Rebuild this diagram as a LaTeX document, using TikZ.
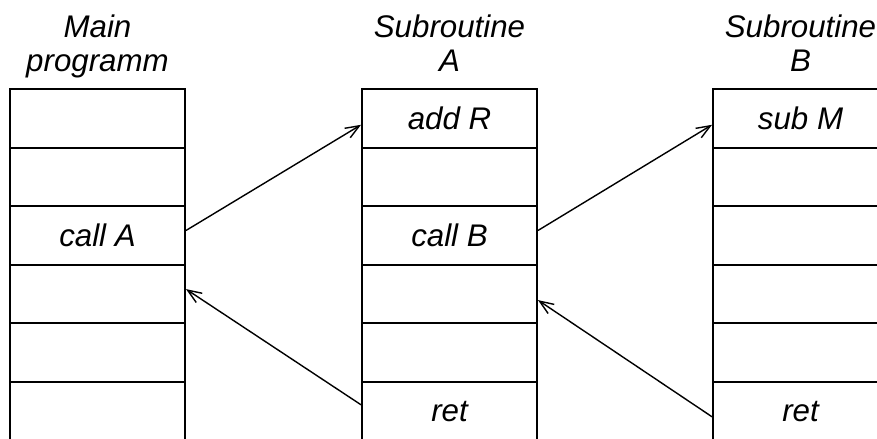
\documentclass[tikz,border=0pt]{standalone}
\usepackage{fontspec}
\setmainfont{Liberation Sans}
\usetikzlibrary{arrows.meta}
\begin{document}
\begin{tikzpicture}[
    cell/.style={draw, line width=1.1pt, minimum width=3.5cm, minimum height=1.172cm,
      inner sep=0pt, font=\fontsize{17.8}{19.4}\selectfont\itshape},
    hdr/.style={anchor=north, inner sep=0pt, align=center,
      font=\fontsize{17.8}{19.4}\selectfont\itshape},
    call/.style={-{Straight Barb[length=0.28cm,width=0.22cm]}, line width=0.8pt}
  ]
  \useasboundingbox (0,0) rectangle (17.54,-8.78);
  \node[hdr] (hm) at (1.95,-0.28) {Main\\programm};
  \node[hdr] (ha) at (8.99,-0.28) {Subroutine\\A};
  \node[hdr] (hb) at (16.01,-0.28) {Subroutine\\B};
  \foreach \r/\t in {1/{},2/{},3/call A,4/{},5/{},6/{}}
    \node[cell] (m\r) at (1.95,{-1.78-1.172*(\r-0.5)}) {\t};
  \foreach \r/\t in {1/add R,2/{},3/call B,4/{},5/{},6/ret}
    \node[cell] (a\r) at (8.99,{-1.78-1.172*(\r-0.5)}) {\t};
  \foreach \r/\t in {1/sub M,2/{},3/{},4/{},5/{},6/ret}
    \node[cell] (b\r) at (16.01,{-1.78-1.172*(\r-0.5)}) {\t};
  \draw[call] ([yshift=0.1cm]m3.east) -- ([yshift=-0.13cm]a1.west);
  \draw[call] ([yshift=0.13cm]a6.west) -- ([yshift=0.1cm]m4.east);
  \draw[call] ([yshift=0.1cm]a3.east) -- ([yshift=-0.13cm]b1.west);
  \draw[call] ([yshift=-0.11cm]b6.west) -- ([yshift=-0.12cm]a4.east);
\end{tikzpicture}
\end{document}
